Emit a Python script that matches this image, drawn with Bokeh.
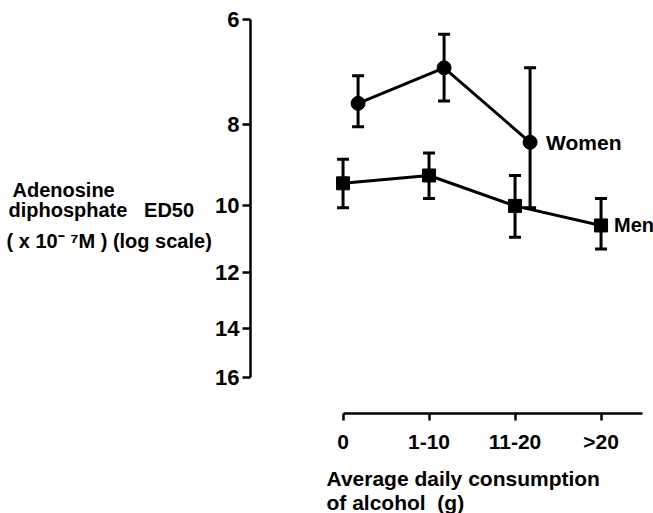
from bokeh.plotting import figure
from bokeh.models import (Range1d, FixedTicker, ColumnDataSource, Whisker, TeeHead,
                          Label, BasicTickFormatter)
from bokeh.embed import file_html
from bokeh.resources import INLINE

# ---- data ----
categories = ["0", "1-10", "11-20", ">20"]
y_ticks = [6, 8, 10, 12, 14, 16]

women_ed50 = [7.55, 6.85, 8.4]
women_err_top = [7.0, 6.25, 6.85]
women_err_bottom = [8.05, 7.5, 10.05]

men_ed50 = [9.4, 9.2, 10.0, 10.55]
men_err_top = [8.8, 8.65, 9.2, 9.8]
men_err_bottom = [10.05, 9.8, 10.9, 11.25]

# ---- style / layout constants ----
W, H = 653, 513
FONT = "Liberation Sans"
WOMEN_SHIFT = 0.175
INK = "#000000"
NB = "\u00a0"
X_START, X_END = -3.983, 3.610      # frame spans the whole canvas
Y_BOTTOM, Y_TOP = 23.23, 5.696      # log scale, inverted
YAXIS_AT_X = -1.076
XAXIS_AT_Y = 17.66

women_x = [i + WOMEN_SHIFT for i in range(len(women_ed50))]
men_x = [float(i) for i in range(len(men_ed50))]

p = figure(width=W, height=H, output_backend="svg", toolbar_location=None,
           y_axis_type="log",
           x_range=Range1d(X_START, X_END), y_range=Range1d(Y_BOTTOM, Y_TOP),
           min_border=0)
p.outline_line_color = None
p.grid.visible = False
p.background_fill_color = "white"
p.border_fill_color = "white"

# axes
xa = p.xaxis[0]
xa.fixed_location = XAXIS_AT_Y
xa.ticker = FixedTicker(ticks=list(range(len(categories))))
xa.major_label_overrides = {i: c for i, c in enumerate(categories)}
xa.bounds = (0, 3.48)
xa.minor_tick_line_color = None
xa.major_tick_in = 0
xa.major_tick_out = 7
xa.axis_line_width = 2.5
xa.major_tick_line_width = 2.5
xa.axis_line_color = INK
xa.major_tick_line_color = INK
xa.major_label_standoff = 10
xa.major_label_text_font = FONT
xa.major_label_text_font_style = "bold"
xa.major_label_text_font_size = "21px"
xa.major_label_text_color = INK

ya = p.yaxis[0]
ya.fixed_location = YAXIS_AT_X
ya.ticker = FixedTicker(ticks=y_ticks)
ya.formatter = BasicTickFormatter()
ya.major_label_overrides = {t: str(t) for t in y_ticks}
ya.bounds = (min(y_ticks), max(y_ticks))
ya.minor_tick_line_color = None
ya.major_tick_in = 0
ya.major_tick_out = 8
ya.axis_line_width = 2.5
ya.major_tick_line_width = 2.5
ya.axis_line_color = INK
ya.major_tick_line_color = INK
ya.major_label_standoff = 3
ya.major_label_text_font = FONT
ya.major_label_text_font_style = "bold"
ya.major_label_text_font_size = "22px"
ya.major_label_text_color = INK

# lines
p.line(women_x, women_ed50, line_width=3, color=INK)
p.line(men_x, men_ed50, line_width=3, color=INK)

# error bars
for xs, top, bot in ((women_x, women_err_top, women_err_bottom),
                     (men_x, men_err_top, men_err_bottom)):
    src = ColumnDataSource(dict(x=xs, top=top, bot=bot))
    p.add_layout(Whisker(source=src, base="x", upper="top", lower="bot",
                         dimension="height", line_width=3, line_color=INK,
                         upper_head=TeeHead(size=12, line_width=3, line_color=INK),
                         lower_head=TeeHead(size=12, line_width=3, line_color=INK)))

# markers
p.scatter(women_x, women_ed50, marker="circle", size=14, color=INK)
p.scatter(men_x, men_ed50, marker="square", size=13, color=INK)

# series labels
p.add_layout(Label(x=women_x[-1], y=women_ed50[-1], text="Women", x_offset=16,
                   text_baseline="middle", text_font=FONT, text_font_style="bold",
                   text_font_size="21px", text_color=INK))
p.add_layout(Label(x=men_x[-1], y=men_ed50[-1], text="Men", x_offset=13,
                   text_baseline="middle", text_font=FONT, text_font_style="bold",
                   text_font_size="20px", text_color=INK))

# axis titles (screen units; frame == canvas, y measured from the bottom)
def add_text(txt, cx, cy, size="20px"):
    p.add_layout(Label(x=cx, y=H - cy, x_units="screen", y_units="screen", text=txt,
                       text_baseline="alphabetic", text_align="left",
                       text_font=FONT, text_font_style="bold",
                       text_font_size=size, text_color=INK))

add_text("Adenosine", 12, 189)
add_text(f"diphosphate{NB}{NB}{NB}ED50", 8, 209)
add_text(f"({NB}x{NB}10\u207b{NB}\u2077M{NB}){NB}(log{NB}scale)", 6, 240)
add_text("Average daily consumption", 326, 478, "21px")
add_text(f"of alcohol{NB}{NB}(g)", 326, 502, "21px")

open("out.html", "w").write(file_html(p, INLINE))
